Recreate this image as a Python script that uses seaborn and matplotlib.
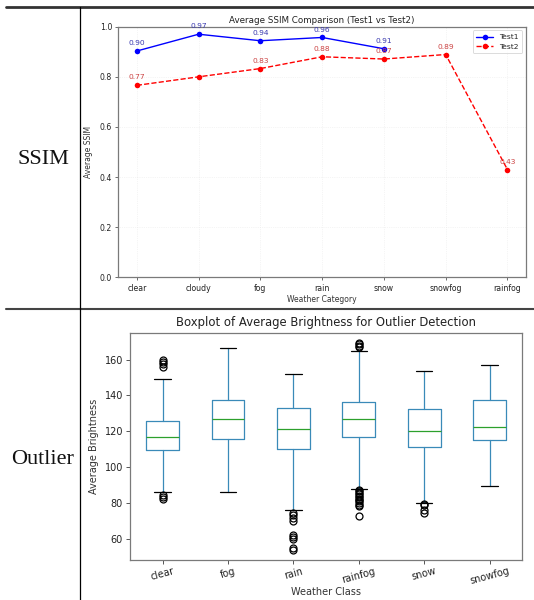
import numpy as np
import pandas as pd
import matplotlib
matplotlib.use("Agg")
import matplotlib.pyplot as plt
from matplotlib.lines import Line2D
import seaborn as sns

# ---------------- data ----------------
ssim_categories = ["clear", "cloudy", "fog", "rain", "snow", "snowfog", "rainfog"]
test1_categories = ["clear", "cloudy", "fog", "rain", "snow"]
test1_values = [0.903, 0.970, 0.944, 0.957, 0.912]
test2_values = [0.766, 0.800, 0.833, 0.880, 0.871, 0.889, 0.430]
test2_annotated = [True, False, True, True, True, True, True]

box_classes = ["clear", "fog", "rain", "rainfog", "snow", "snowfog"]
box_q1 = [109.6, 115.6, 110.0, 116.7, 111.1, 115.2]
box_med = [117.0, 127.0, 121.1, 126.8, 120.2, 122.6]
box_q3 = [125.6, 137.2, 133.1, 136.3, 132.2, 137.2]
box_whislo = [86.1, 86.3, 75.9, 87.6, 79.8, 89.6]
box_whishi = [149.4, 166.5, 152.0, 165.0, 153.7, 156.8]
box_fliers = [
    [159.5, 158.5, 157.3, 156.0, 84.2, 83.3, 82.0],
    [],
    [74.1, 73.0, 71.8, 70.0, 62.2, 61.1, 59.6, 54.6, 53.9],
    [169.2, 168.4, 167.6, 166.8, 87.2, 86.4, 85.6, 84.8, 84.0, 83.2, 82.4,
     81.6, 80.8, 80.0, 79.0, 78.3, 72.6],
    [79.5, 78.8, 75.9, 74.1],
    [],
]

# ---------------- style ----------------
sns.set_theme(style="ticks")
plt.rcParams["font.family"] = ["DejaVu Sans"]
plt.rcParams["axes.edgecolor"] = "#7a7a7a"
plt.rcParams["axes.linewidth"] = 0.9
plt.rcParams["xtick.color"] = "#555555"
plt.rcParams["ytick.color"] = "#555555"
plt.rcParams["xtick.labelcolor"] = "#222222"
plt.rcParams["ytick.labelcolor"] = "#222222"

fig = plt.figure(figsize=(5.34, 6.0), dpi=100)
fig.patch.set_facecolor("white")

# ---------------- top: SSIM line chart ----------------
ax1 = fig.add_axes([0.2215, 0.5378, 0.7635, 0.4177])
sns.lineplot(x=test1_categories, y=test1_values, ax=ax1, color="blue",
             marker="o", markersize=4, markeredgewidth=0, linewidth=1.0,
             sort=False, label="Test1")
sns.lineplot(x=ssim_categories, y=test2_values, ax=ax1, color="red",
             marker="o", markersize=4, markeredgewidth=0, linewidth=1.0,
             linestyle="--", sort=False, label="Test2")
ax1.set_ylim(0, 1.0)
ax1.set_xlim(-0.3, len(ssim_categories) - 1 + 0.3)
ax1.grid(True, color="#dddddd", linestyle=":", linewidth=0.5, alpha=0.6)
for cat, v in zip(test1_categories, test1_values):
    ax1.annotate(f"{v:.2f}", (cat, v), textcoords="offset points",
                 xytext=(0, 3.5), ha="center", va="bottom",
                 fontsize=5.4, color="#3a3ab0")
for cat, v, show in zip(ssim_categories, test2_values, test2_annotated):
    if show:
        ax1.annotate(f"{v:.2f}", (cat, v), textcoords="offset points",
                     xytext=(0, 3.5), ha="center", va="bottom",
                     fontsize=5.4, color="#cc4444")
ax1.set_title("Average SSIM Comparison (Test1 vs Test2)", fontsize=6.3,
              pad=3, color="#222222")
ax1.set_xlabel("Weather Category", fontsize=5.5, labelpad=2, color="#333333")
ax1.set_ylabel("Average SSIM", fontsize=5.5, labelpad=5, color="#333333")
ax1.tick_params(axis="both", labelsize=5.6, length=2.5, width=0.6, pad=2)
leg = ax1.legend(loc="upper right", fontsize=5.4, frameon=True,
                 handlelength=2.2, borderpad=0.5, labelspacing=0.4)
leg.get_frame().set_edgecolor("#cccccc")
leg.get_frame().set_linewidth(0.6)

# ---------------- bottom: boxplot ----------------
ax2 = fig.add_axes([0.2434, 0.0667, 0.7347, 0.3788])
stats = []
for name, q1, med, q3, lo, hi, fl in zip(box_classes, box_q1, box_med, box_q3,
                                          box_whislo, box_whishi, box_fliers):
    stats.append(dict(label=name, q1=q1, med=med, q3=q3, whislo=lo,
                      whishi=hi, fliers=np.array(fl)))
positions = np.arange(1, len(box_classes) + 1)
ax2.bxp(stats, positions=positions, widths=0.5,
        boxprops=dict(color="#3a8ab8", linewidth=0.9),
        whiskerprops=dict(color="#3a8ab8", linewidth=0.9),
        medianprops=dict(color="#2ca02c", linewidth=0.9),
        capprops=dict(color="black", linewidth=0.9),
        flierprops=dict(marker="o", markerfacecolor="none",
                        markeredgecolor="black", markersize=5,
                        markeredgewidth=0.9))
ax2.margins(y=0.05)
ax2.set_xlim(0.5, len(box_classes) + 0.5)
ax2.set_title("Boxplot of Average Brightness for Outlier Detection",
              fontsize=8.4, pad=5, color="#222222")
ax2.set_xlabel("Weather Class", fontsize=7.0, labelpad=0.5, color="#333333")
ax2.set_ylabel("Average Brightness", fontsize=7.0, labelpad=4, color="#333333")
ax2.tick_params(axis="both", labelsize=7.0, length=3, width=0.7, pad=2)
ax2.tick_params(axis="x", pad=1.5)
plt.setp(ax2.get_xticklabels(), rotation=15)

# ---------------- frame / row labels ----------------
fig.add_artist(Line2D([6 / 534, 1.0], [1 - 7 / 600, 1 - 7 / 600],
                      transform=fig.transFigure, color="#333333", linewidth=2.0))
fig.add_artist(Line2D([6 / 534, 1.0], [1 - 308.5 / 600, 1 - 308.5 / 600],
                      transform=fig.transFigure, color="#444444", linewidth=1.5))
fig.add_artist(Line2D([80 / 534, 80 / 534], [1 - 7 / 600, 0.0],
                      transform=fig.transFigure, color="black", linewidth=0.9))
fig.text(43 / 534, 1 - 159 / 600, "SSIM", ha="center", va="center",
         fontsize=16, family=["Liberation Serif", "DejaVu Serif"], color="#111111")
fig.text(43 / 534, 1 - 460 / 600, "Outlier", ha="center", va="center",
         fontsize=16, family=["Liberation Serif", "DejaVu Serif"], color="#111111")

fig.savefig("out.png", dpi=100, facecolor="white")
